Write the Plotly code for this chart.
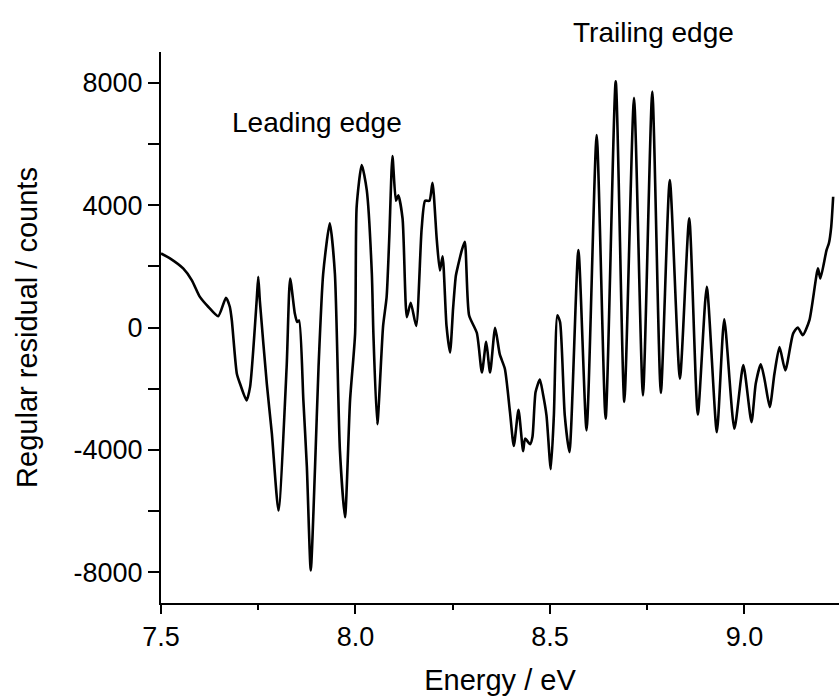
import plotly.graph_objects as go

# Energy (eV) and residual (counts)
energy = [
    7.500, 7.523, 7.557, 7.579, 7.600, 7.622, 7.647, 7.667, 7.677, 7.682,
    7.695, 7.703, 7.720, 7.729, 7.746, 7.750, 7.754, 7.772, 7.785, 7.802,
    7.823, 7.832, 7.844, 7.850, 7.855, 7.866, 7.875, 7.885, 7.896, 7.905,
    7.917, 7.934, 7.947, 7.960, 7.973, 7.986, 7.999, 8.003, 8.016, 8.029,
    8.042, 8.046, 8.056,
    8.071, 8.080, 8.087, 8.095, 8.104, 8.110, 8.121, 8.132, 8.142, 8.156,
    8.170, 8.179, 8.190, 8.198, 8.209, 8.217, 8.224, 8.234, 8.243, 8.251,
    8.258, 8.264, 8.273, 8.281, 8.292, 8.312, 8.325, 8.336, 8.346, 8.359,
    8.371, 8.384, 8.397, 8.407, 8.419, 8.431, 8.436, 8.449, 8.455, 8.463,
    8.474, 8.482, 8.491, 8.502, 8.510, 8.519, 8.526, 8.538, 8.550,
    8.573, 8.594, 8.620, 8.643, 8.669, 8.691, 8.716, 8.739, 8.763, 8.785,
    8.808, 8.834, 8.858, 8.880, 8.903, 8.929, 8.948, 8.974, 8.997, 9.018,
    9.029, 9.042, 9.052, 9.065, 9.077, 9.090, 9.105, 9.125, 9.137, 9.150,
    9.167, 9.189, 9.195, 9.211, 9.217, 9.223, 9.228,
]
residual = [
    2420, 2260, 1930, 1550, 1000, 670, 370, 970, 670, 240,
    -1510, -1830, -2380, -1940, 890, 1660, 890, -1830, -3470, -5980,
    -1290, 1600, 460, 180, 230, -2380, -4560, -7940, -4560, -1290,
    1770, 3400, 1770, -4020, -6200, -2380, -200, 3950, 5310, 4490,
    1770, -200, -3160,
    50, 990, 2980, 5600, 4140, 4320, 3560, 340, 810, 50,
    3210, 4140, 4140, 4730, 2860, 1860, 2330, 50, -820, 640,
    1690, 2040, 2510, 2800, 400, -180, -1470, -470, -1470, -10,
    -880, -1350, -2750, -3870, -2690, -4040, -3630, -3810, -3570, -2110,
    -1700, -2170, -2870, -4630, -2870, 400, 170, -2870, -4070,
    2530, -3360, 6290, -2980, 8040, -2430, 7500, -2220, 7710, -2140,
    4820, -1670, 3570, -2840, 1330, -3420, 270, -3310, -1230, -3090,
    -1830, -1200, -1720, -2600, -1510, -640, -1400, -200, 0, -250,
    240, 1930, 1600, 2530, 2750, 3290, 4270,
]

x_ticks = [7.5, 8.0, 8.5, 9.0]
x_ticklabels = ["7.5", "8.0", "8.5", "9.0"]
y_ticks = [-8000, -4000, 0, 4000, 8000]
y_ticklabels = ["-8000", "-4000", "0", "4000", "8000"]

FONT = "Arial, Liberation Sans, sans-serif"

fig = go.Figure()
fig.add_trace(go.Scatter(
    x=energy, y=residual, mode="lines",
    line=dict(color="black", width=2.6, shape="spline", smoothing=0.6),
    showlegend=False, hoverinfo="skip",
))

fig.update_layout(
    width=839, height=698,
    margin=dict(l=161, r=0, t=52, b=95),
    paper_bgcolor="white", plot_bgcolor="white",
    font=dict(family=FONT, color="black", size=27),
    showlegend=False,
)

fig.update_xaxes(
    range=[7.5, 9.243], showgrid=False, zeroline=False,
    showline=True, linecolor="black", linewidth=2,
    ticks="outside", ticklen=9, tickwidth=2, tickcolor="black",
    tickvals=x_ticks, ticktext=x_ticklabels,
    tickfont=dict(family=FONT, size=27),
    minor=dict(dtick=0.25, tick0=7.5, ticks="outside", ticklen=5, tickwidth=2,
               tickcolor="black", showgrid=False),
    title=dict(text="Energy / eV", font=dict(family=FONT, size=29), standoff=18),
    automargin=False,
)
fig.update_yaxes(
    range=[-9000, 9000], showgrid=False, zeroline=False,
    showline=True, linecolor="black", linewidth=2,
    ticks="outside", ticklen=11, tickwidth=2, tickcolor="black",
    tickvals=y_ticks, ticktext=y_ticklabels,
    tickfont=dict(family=FONT, size=27),
    minor=dict(dtick=2000, tick0=0, ticks="outside", ticklen=11, tickwidth=2,
               tickcolor="black", showgrid=False),
    title=dict(text="Regular residual / counts", font=dict(family=FONT, size=29), standoff=27),
    automargin=False,
)

fig.add_annotation(x=7.677, y=6690, xref="x", yref="y", text="Leading edge",
                   showarrow=False, xanchor="left", yanchor="middle",
                   font=dict(family=FONT, size=28, color="black"))
fig.add_annotation(x=0.727, y=1.036, xref="paper", yref="paper", text="Trailing edge",
                   showarrow=False, xanchor="center", yanchor="middle",
                   font=dict(family=FONT, size=28, color="black"))

fig.write_html("out.html")
